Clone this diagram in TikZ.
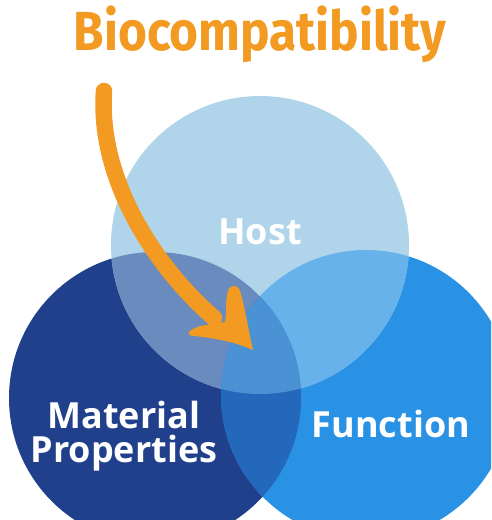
\documentclass[tikz,border=0pt]{standalone}
\usepackage{fontspec}
\setmainfont{Open Sans}
\newfontfamily\titlefont{Fira Sans}
\definecolor{hostc}{HTML}{B0D5EA}
\definecolor{matc}{HTML}{21408C}
\definecolor{func}{HTML}{2A92E5}
\definecolor{hmc}{HTML}{6A8BBE}
\definecolor{hfc}{HTML}{68B2EC}
\definecolor{mfc}{HTML}{2368BA}
\definecolor{allc}{HTML}{4A92D3}
\definecolor{arrowc}{HTML}{F29A21}
\begin{document}
\begin{tikzpicture}[x=1pt,y=-1pt,
  label/.style={text=white,font=\bfseries\fontsize{36}{36}\selectfont,inner sep=0pt,anchor=base},
  shaft/.style={draw=arrowc,line width=16.5pt,line cap=round}]
\useasboundingbox (0,0) rectangle (491,520);
\clip (0,0) rectangle (491,520);
\fill[white] (0,0) rectangle (491,520);
% circle centres
\coordinate (host) at (260,245);
\coordinate (mat) at (155,398);
\coordinate (fun) at (366,395);
\def\rh{149}\def\rm{146}\def\rf{145}
% base discs
\fill[matc] (mat) circle[radius=\rm];
\fill[func] (fun) circle[radius=\rf];
\fill[hostc] (host) circle[radius=\rh];
% pairwise overlaps with the host
\begin{scope}
  \clip (host) circle[radius=\rh];
  \fill[hmc] (mat) circle[radius=\rm];
  \fill[hfc] (fun) circle[radius=\rf];
\end{scope}
% material/function overlap and the common centre
\begin{scope}
  \clip (mat) circle[radius=\rm];
  \fill[mfc] (fun) circle[radius=\rf];
  \clip (host) circle[radius=\rh];
  \fill[allc] (fun) circle[radius=\rf];
\end{scope}
% labels
\node[label] (hostlbl) at (260,244) {Host};
\node[label] (matlbl) at (124,428) {Material};
\node[label] (proplbl) at (124,462) {Properties};
\node[label] (funlbl) at (391,437) {Function};
\node[text=arrowc,font=\titlefont\bfseries\fontsize{55}{55}\selectfont,inner sep=0pt,anchor=base,xscale=0.9] (title) at (260,50) {Biocompatibility};
% curved arrow
\coordinate (astart) at (104,91);
\coordinate (aend) at (214,318);
\draw[shaft] (astart) .. controls (98,175) and (150,262) .. (aend);
\fill[arrowc] (253,350)
  .. controls (248,328) and (244,303) .. (240,291)
  .. controls (238,284) and (230,284) .. (228,291)
  .. controls (225,300) and (227,312) .. (225,322)
  -- (200,326)
  .. controls (195,328) and (190,330) .. (189,332)
  .. controls (188,335) and (191,336) .. (194,336)
  .. controls (215,338) and (235,342) .. cycle;
\end{tikzpicture}
\end{document}
